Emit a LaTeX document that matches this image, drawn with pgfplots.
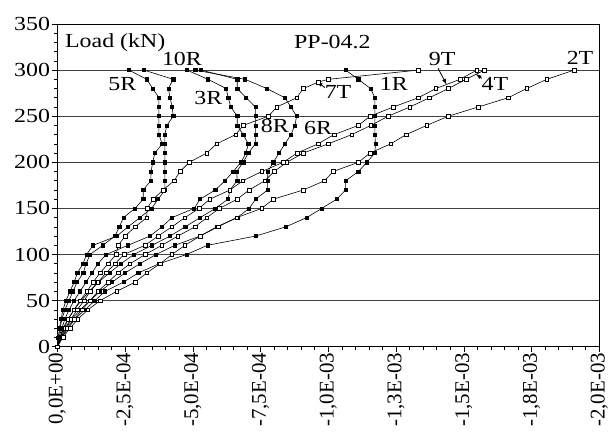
\documentclass[border=0pt]{standalone}
\usepackage{fontspec}
\setmainfont{Liberation Serif}[FakeStretch=1.2]
\newfontfamily\tickfont{Liberation Serif}
\usepackage{pgfplots}
\pgfplotsset{compat=1.18}
\usepackage{pgfplotstable}
\usetikzlibrary{arrows.meta}

% strain magnitude in 1e-6 (plotted to the right as negative strain), load in kN
\pgfplotstableread{
L u
0 0
10 4
20 10
30 17
40 28
50 43
60 58
70 73
80 96
90 106
100 121
110 168
120 213
130 229
140 244
150 287
160 317
170 317
180 345
190 346
200 352
210 360
220 387
230 375
240 375
250 375
260 375
270 375
280 352
290 330
300 265
}\fiveR
\pgfplotstableread{
L u
0 0
10 4
20 8
30 14
40 21
50 32
60 47
70 62
80 74
90 95
100 108
110 132
120 220
130 261
140 305
150 348
160 372
170 397
180 397
190 397
200 397
210 397
220 397
230 397
240 404
250 428
260 424
270 416
280 410
290 428
300 320
}\tenR
\pgfplotstableread{
L u
0 0
10 6
20 17
30 28
40 43
50 62
60 84
70 106
80 128
90 150
100 180
110 261
120 342
130 386
140 423
150 505
160 527
170 583
180 619
190 649
200 678
210 696
220 705
230 686
240 664
250 664
260 640
270 631
280 623
290 556
300 479
}\threeR
\pgfplotstableread{
L u
0 0
10 10
20 21
30 40
40 62
50 88
60 118
70 152
80 192
90 235
100 282
110 350
120 416
130 472
140 527
150 583
160 630
170 637
180 664
190 662
200 686
210 705
220 731
230 731
240 731
250 731
260 731
270 697
280 664
290 664
300 531
}\eightR
\pgfplotstableread{
L u
0 0
10 14
20 32
30 54
40 84
50 121
60 158
70 202
80 250
90 305
100 364
110 434
120 527
130 588
140 664
150 708
160 732
170 776
180 776
190 777
200 797
210 818
220 840
230 862
240 877
250 883
260 862
270 840
280 773
290 693
300 509
}\sixR
\pgfplotstableread{
L u
0 0
10 17
20 40
30 65
40 102
50 139
60 176
70 244
80 299
90 376
100 477
110 554
120 732
130 843
140 920
150 976
160 1031
170 1064
180 1064
190 1111
200 1142
210 1172
220 1174
230 1172
240 1172
250 1172
260 1172
270 1172
280 1156
290 1111
300 1064
}\oneR
\pgfplotstableread{
L u
0 0
10 10
20 25
30 40
40 62
50 84
60 110
70 132
80 158
90 187
100 217
110 225
120 250
130 287
140 330
150 331
160 354
170 390
180 431
190 453
200 487
210 551
220 588
230 658
240 686
250 779
260 810
270 883
280 908
287 963
290 1000
300 1332
}\sevenT
\pgfplotstableread{
L u
0 0
10 14
20 28
30 51
40 73
50 99
60 121
70 150
80 180
90 213
100 246
110 324
120 372
130 423
140 471
150 523
160 563
170 637
180 685
190 755
200 833
210 885
220 962
230 1021
240 1111
250 1154
260 1240
270 1332
280 1397
290 1486
300 1548
}\nineT
\pgfplotstableread{
L u
0 0
10 17
20 36
30 62
40 91
50 121
60 150
70 187
80 224
90 268
100 324
110 386
120 445
130 508
140 552
150 598
160 664
170 708
180 766
190 800
200 847
210 907
220 1000
230 1086
240 1157
250 1221
260 1301
270 1373
280 1443
290 1508
300 1576
}\fourT
\pgfplotstableread{
L u
0 0
10 21
20 47
30 76
40 113
50 158
60 219
70 287
80 330
90 379
100 423
110 471
120 527
130 593
140 662
150 754
160 797
170 908
180 986
190 1018
200 1111
210 1154
220 1230
230 1287
240 1363
250 1443
260 1553
270 1664
280 1732
290 1806
300 1907
}\twoT

\pgfplotsset{
  rser/.style={black, line width=0.6pt, mark=square*, mark size=1.6pt,
    mark options={fill=black, solid}},
  tser/.style={black, line width=0.6pt, mark=square*, mark size=1.8pt,
    mark options={fill=white, solid, line width=0.5pt}},
}

\begin{document}
\begin{tikzpicture}
\begin{axis}[
  name=ax,
  width=542bp, height=322.7bp, scale only axis,
  xmin=0, xmax=2000, ymin=0, ymax=350,
  xtick={0,250,...,2000},
  xticklabels={{0,0E+00},{-2,5E-04},{-5,0E-04},{-7,5E-04},{-1,0E-03},{-1,3E-03},{-1,5E-03},{-1,8E-03},{-2,0E-03}},
  ytick={0,50,...,350},
  minor x tick num=4, minor y tick num=4,
  xtick pos=bottom, ytick pos=left,
  tick align=outside,
  major tick length=5bp, minor tick length=3bp,
  tick style={black, line width=0.6pt},
  axis line style={line width=0.9pt},
  ymajorgrids, major grid style={black!75, line width=0.5pt},
  xticklabel style={font=\tickfont\fontsize{21}{21}\selectfont, rotate=90, anchor=east, inner sep=1pt},
  yticklabel style={font=\fontsize{20}{20}\selectfont, inner sep=2pt},
  /pgf/number format/assume math mode=true,
]
\addplot[rser] table[x=u, y=L] {\fiveR};
\addplot[rser] table[x=u, y=L] {\tenR};
\addplot[rser] table[x=u, y=L] {\threeR};
\addplot[rser] table[x=u, y=L] {\eightR};
\addplot[rser] table[x=u, y=L] {\sixR};
\addplot[rser] table[x=u, y=L] {\oneR};
\addplot[tser] table[x=u, y=L] {\sevenT};
\addplot[tser] table[x=u, y=L] {\nineT};
\addplot[tser] table[x=u, y=L] {\fourT};
\addplot[tser] table[x=u, y=L] {\twoT};

\begin{scope}[every node/.style={font=\fontsize{20}{20}\selectfont, inner sep=0pt}]
\node[anchor=west] at (28,330) {Load (kN)};
\node at (1015,330) {PP-04.2};
\node at (460,312) {10R};
\node at (240,285) {5R};
\node at (557,270) {3R};
\node at (803,239) {8R};
\node at (962,237) {6R};
\node at (1036,276) {7T};
\node at (1242,285) {1R};
\node at (1420,312) {9T};
\node at (1615,285) {4T};
\node at (1929,313) {2T};
\end{scope}
\draw[-{Latex[length=6bp,width=4bp]}, line width=0.8pt] (1405,302) -- (1437,284);
\draw[-{Latex[length=6bp,width=4bp]}, line width=0.8pt] (1566,291) -- (1544,296);
\draw[-{Latex[length=6bp,width=4bp]}, line width=0.8pt] (988,281) -- (957,287.5);
\end{axis}
\pgfresetboundingbox
\path ([xshift=-57.3bp,yshift=-94.3bp]ax.south west) rectangle ([xshift=10.7bp,yshift=24bp]ax.north east);
\end{tikzpicture}
\end{document}
